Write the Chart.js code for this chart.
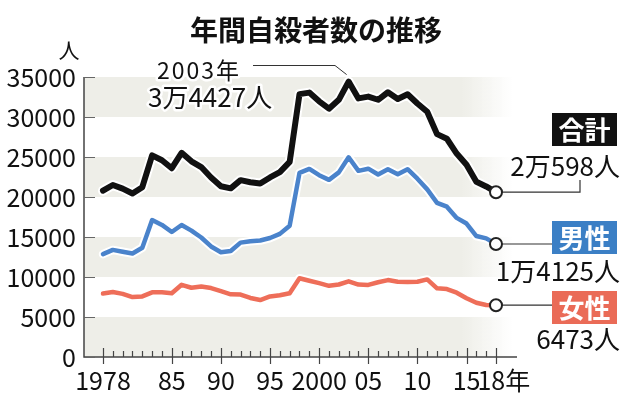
<!DOCTYPE html>
<html>
<head>
<meta charset="utf-8">
<script src="https://cdn.jsdelivr.net/npm/chart.js@4.4.0/dist/chart.umd.min.js"></script>
<style>
  html, body { margin: 0; padding: 0; background: #fff; }
  #grafico { display: block; }
</style>
</head>
<body>
<canvas id="grafico" width="636" height="404"></canvas>
<script>
// --- DATOS ---
const anios = [1978, 1979, 1980, 1981, 1982, 1983, 1984, 1985, 1986, 1987,
               1988, 1989, 1990, 1991, 1992, 1993, 1994, 1995, 1996, 1997,
               1998, 1999, 2000, 2001, 2002, 2003, 2004, 2005, 2006, 2007,
               2008, 2009, 2010, 2011, 2012, 2013, 2014, 2015, 2016, 2017, 2018];

// 合計
const total = [20788, 21503, 21048, 20434, 21228, 25202, 24596, 23599, 25524, 24460,
               23742, 22436, 21346, 21084, 22104, 21851, 21679, 22445, 23104, 24391,
               32863, 33048, 31957, 31042, 32143, 34427, 32325, 32552, 32155, 33093,
               32249, 32845, 31690, 30651, 27858, 27283, 25427, 24025, 21897, 21321, 20598];

// 男性
const hombres = [12859, 13386, 13155, 12942, 13654, 17116, 16508, 15624, 16499, 15802,
                 14934, 13818, 13102, 13242, 14296, 14468, 14560, 14874, 15393, 16416,
                 23013, 23512, 22727, 22144, 23080, 24963, 23272, 23540, 22813, 23478,
                 22831, 23472, 22283, 20955, 19273, 18787, 17386, 16681, 15121, 14826, 14125];

// 女性
const mujeres = [7929, 8117, 7893, 7492, 7574, 8086, 8088, 7975, 9025, 8658,
                 8808, 8618, 8244, 7842, 7808, 7383, 7119, 7571, 7711, 7975,
                 9850, 9536, 9230, 8898, 9063, 9464, 9053, 9012, 9342, 9615,
                 9418, 9373, 9407, 9696, 8585, 8496, 8041, 7344, 6776, 6495, 6473];

const aniosEtiqueta = [1978, 1985, 1990, 1995, 2000, 2005, 2010, 2015, 2018];
const textosEtiqueta = ['1978', '85', '90', '95', '2000', '05', '10', '15', '18年'];
const ticksY = [0, 5000, 10000, 15000, 20000, 25000, 30000, 35000];

const FUENTE_JP = '"Noto Sans CJK JP", "Liberation Sans", sans-serif';
const ultimo = anios.length - 1;

function puntos(serie) {
    return anios.map((a, i) => ({ x: a, y: serie[i] }));
}

function texto(ctx, str, x, y, font, color, align, halo, espacio) {
    ctx.save();
    ctx.font = font;
    ctx.textAlign = align || 'left';
    ctx.textBaseline = 'middle';
    if (espacio) ctx.letterSpacing = espacio;
    if (halo) {
        ctx.strokeStyle = '#fff';
        ctx.lineWidth = 5;
        ctx.lineJoin = 'round';
        ctx.strokeText(str, x, y);
    }
    ctx.fillStyle = color;
    ctx.fillText(str, x, y);
    ctx.restore();
}

// --- PLUGIN: bandas, ejes, marcas y rótulos ---
const decoracion = {
    id: 'decoracion',
    beforeDatasetsDraw(chart) {
        const { ctx, chartArea, scales: { x, y } } = chart;
        ctx.save();

        // bandas grises que se desvanecen a la derecha
        const grad = ctx.createLinearGradient(462, 0, 512, 0);
        grad.addColorStop(0, 'rgba(238,238,232,1)');
        grad.addColorStop(1, 'rgba(238,238,232,0)');
        ctx.fillStyle = grad;
        for (let v = 0; v < 35000; v += 10000) {
            const arriba = y.getPixelForValue(v + 5000);
            const abajo = y.getPixelForValue(v);
            ctx.fillRect(chartArea.left, arriba, 512 - chartArea.left, abajo - arriba);
        }

        // ejes
        ctx.strokeStyle = '#444';
        ctx.lineWidth = 1.5;
        ctx.beginPath();
        ctx.moveTo(chartArea.left, chartArea.top);
        ctx.lineTo(chartArea.left, chartArea.bottom);
        ctx.lineTo(chartArea.right, chartArea.bottom);
        ctx.stroke();

        // marcas del eje Y (hacia dentro)
        ctx.lineWidth = 1.2;
        ctx.strokeStyle = '#666';
        ctx.beginPath();
        for (const v of ticksY) {
            const py = Math.round(y.getPixelForValue(v)) + 0.5;
            ctx.moveTo(chartArea.left, py);
            ctx.lineTo(chartArea.left + 11, py);
        }
        ctx.stroke();

        // marcas del eje X
        ctx.strokeStyle = '#444';
        ctx.beginPath();
        for (const a of anios) {
            const px = Math.round(x.getPixelForValue(a)) + 0.5;
            if (aniosEtiqueta.includes(a)) {
                ctx.moveTo(px, chartArea.bottom - 9);
                ctx.lineTo(px, chartArea.bottom + 7);
            } else {
                ctx.moveTo(px, chartArea.bottom - 6);
                ctx.lineTo(px, chartArea.bottom);
            }
        }
        ctx.stroke();

        // líneas guía hacia los rótulos de la derecha
        const xf = x.getPixelForValue(anios[ultimo]);
        const yT = y.getPixelForValue(total[ultimo]);
        const yH = y.getPixelForValue(hombres[ultimo]);
        const yM = y.getPixelForValue(mujeres[ultimo]);
        ctx.strokeStyle = '#333';
        ctx.lineWidth = 1.2;
        ctx.beginPath();
        ctx.moveTo(xf, yT); ctx.lineTo(580, yT); ctx.lineTo(580, 180);
        ctx.moveTo(xf, yH); ctx.lineTo(553, yH);
        ctx.moveTo(xf, yM); ctx.lineTo(553, yM);
        ctx.stroke();

        // línea del máximo 2003
        const iMax = anios.indexOf(2003);
        const px = x.getPixelForValue(2003);
        const py = y.getPixelForValue(total[iMax]);
        ctx.strokeStyle = '#333';
        ctx.lineWidth = 1;
        ctx.beginPath();
        ctx.moveTo(253, 65.5);
        ctx.lineTo(335, 65.5);
        ctx.lineTo(px - 2, py - 7);
        ctx.stroke();

        ctx.restore();
    },
    afterDraw(chart) {
        const ctx = chart.ctx;

        // título y unidad
        texto(ctx, '年間自殺者数の推移', 316, 30, 'bold 28px ' + FUENTE_JP, '#111', 'center');
        texto(ctx, '人', 69, 50, '21px ' + FUENTE_JP, '#111', 'center');

        // máximo
        texto(ctx, '2003年', 157, 70, '23px ' + FUENTE_JP, '#111', 'left', true, '2px');
        texto(ctx, '3万4427人', 148, 97, '26px ' + FUENTE_JP, '#111', 'left', true);

        // rótulos de la derecha
        const cajas = [
            { txt: '合計', color: '#111111', y: 113, valor: '2万598人', vy: 166 },
            { txt: '男性', color: '#3b7fc5', y: 221, valor: '1万4125人', vy: 271 },
            { txt: '女性', color: '#ea6b57', y: 291, valor: '6473人', vy: 339 }
        ];
        for (const c of cajas) {
            ctx.fillStyle = c.color;
            ctx.fillRect(552, c.y, 65, 33);
            texto(ctx, c.txt, 584.5, c.y + 17, 'bold 26px ' + FUENTE_JP, '#fff', 'center');
            texto(ctx, c.valor, 620, c.vy, '26px ' + FUENTE_JP, '#111', 'right');
        }
    }
};

// --- GRÁFICO ---
const puntoFinal = (ctx) => (ctx.dataIndex === ultimo ? 6 : 0);

function serieLinea(datos, color, ancho) {
    return {
        data: puntos(datos),
        borderColor: color,
        borderWidth: ancho,
        borderJoinStyle: 'round',
        borderCapStyle: 'round',
        pointRadius: puntoFinal,
        pointBackgroundColor: '#fff',
        pointBorderColor: '#222',
        pointBorderWidth: 2,
        tension: 0,
        fill: false,
        order: 0
    };
}

function serieHalo(datos, ancho) {
    return {
        data: puntos(datos),
        borderColor: '#fff',
        borderWidth: ancho,
        borderJoinStyle: 'round',
        borderCapStyle: 'round',
        pointRadius: 0,
        tension: 0,
        fill: false,
        order: 1
    };
}

const grafico = document.getElementById('grafico');
// píxeles: 1978 -> 103, 2018 -> 496, área de 84 a 517
const pxAnio = (496 - 103) / 40;
const xMin = 1978 - (103 - 84) / pxAnio;
const xMax = xMin + (517 - 84) / pxAnio;
// el rótulo "18年" va desplazado a la derecha de su marca
const desplazarEtiqueta = (v) => (v === 2018 ? v + 0.8 : v);

new Chart(grafico, {
    type: 'line',
    data: {
        datasets: [
            serieLinea(total, '#111111', 6),
            serieLinea(hombres, '#4a83cb', 4.5),
            serieLinea(mujeres, '#ee6e59', 4.5),
            serieHalo(total, 10),
            serieHalo(hombres, 8.5),
            serieHalo(mujeres, 8.5)
        ]
    },
    options: {
        responsive: false,
        animation: false,
        events: [],
        layout: { padding: { left: 0, top: 77, right: 636 - 517, bottom: 0 } },
        scales: {
            x: {
                type: 'linear',
                min: xMin,
                max: xMax,
                afterFit: (s) => { s.height = 404 - 357; },
                afterBuildTicks: (s) => { s.ticks = aniosEtiqueta.map(v => ({ value: desplazarEtiqueta(v) })); },
                grid: { display: false, drawTicks: false },
                border: { display: false },
                ticks: {
                    autoSkip: false,
                    maxRotation: 0,
                    padding: 8,
                    color: '#111',
                    font: { family: '"Liberation Sans Narrow", "Noto Sans CJK JP", sans-serif', size: 25 },
                    callback: (v) => textosEtiqueta[aniosEtiqueta.indexOf(Math.floor(v))] || ''
                }
            },
            y: {
                min: 0,
                max: 35000,
                afterFit: (s) => { s.width = 84; },
                afterBuildTicks: (s) => { s.ticks = ticksY.map(v => ({ value: v })); },
                grid: { display: false, drawTicks: false },
                border: { display: false },
                ticks: {
                    padding: 8,
                    color: '#111',
                    font: { family: FUENTE_JP, size: 25 },
                    callback: (v) => String(v)
                }
            }
        },
        plugins: {
            legend: { display: false },
            tooltip: { enabled: false }
        }
    },
    plugins: [decoracion]
});
</script>
</body>
</html>
